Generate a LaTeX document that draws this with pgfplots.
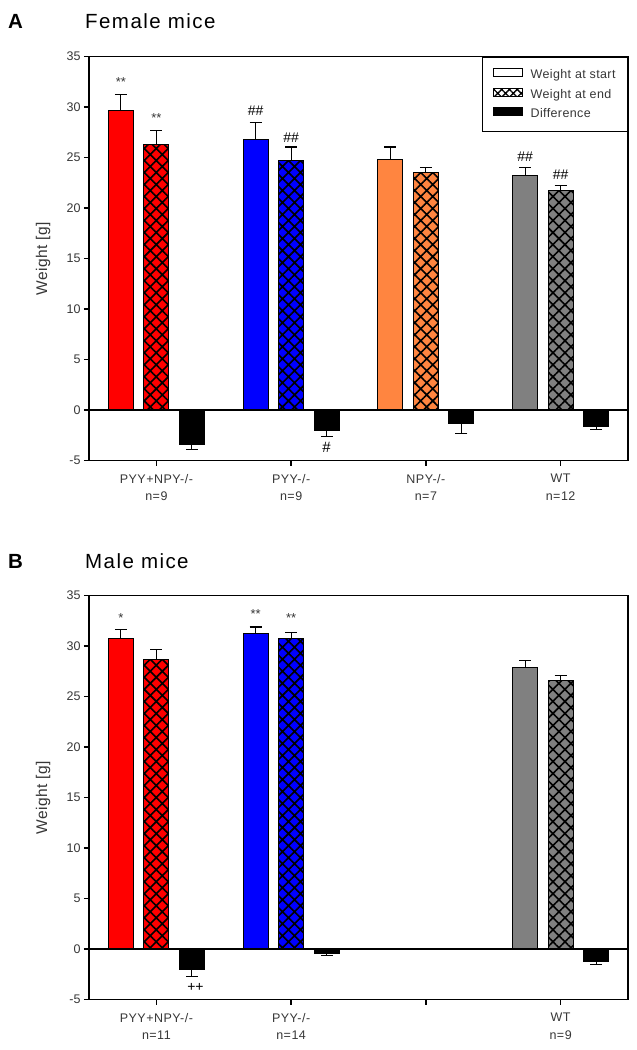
\documentclass[border=0pt]{standalone}
\usepackage{fontspec}
\setmainfont{Liberation Sans}
\usepackage{pgfplots}
\pgfplotsset{compat=1.18}
\usetikzlibrary{patterns.meta}

\definecolor{cRed}{RGB}{255,0,0}
\definecolor{cBlue}{RGB}{0,0,255}
\definecolor{cOrange}{RGB}{255,133,64}
\definecolor{cGray}{RGB}{128,128,128}
\definecolor{tickgray}{RGB}{55,55,55}

\newcommand{\lsp}[1]{\addfontfeatures{LetterSpace=#1}}

\tikzset{hatchpat/.style={postaction={pattern={Hatch[angle=45,distance=8.5pt,line width=1.6pt]}, pattern color=black}},
  ann/.style={font=\fontsize{13}{15}\selectfont, text=tickgray},
  hann/.style={font=\fontsize{14}{16}\selectfont, text=black}}

\pgfplotsset{
  mybars/.style={ybar, bar width=0.1855, bar shift=0pt, draw=black, line width=0.9pt, forget plot,
     error bars/y explicit, error bars/error bar style={line width=1.2pt, black},
     error bars/error mark options={black, line width=1.2pt, mark size=6pt, rotate=90}},
  panel/.style={scale only axis, width=539pt, height=404pt, xmin=-0.5, xmax=3.5, ymin=-5, ymax=35,
     ytick={-5,0,5,10,15,20,25,30,35}, xtick={0,1,2,3}, tick align=outside, ytick pos=left, xtick pos=bottom,
     major tick length=5pt, axis line style={line width=1.5pt}, tick style={line width=1.3pt, black},
     /pgf/number format/assume math mode=true,
     yticklabel style={font=\fontsize{12.5}{14}\selectfont, text=tickgray},
     xticklabel style={align=center, font=\fontsize{12.5}{17.5}\selectfont\lsp{4}, text=tickgray, yshift=-5pt},
     ylabel={Weight [g]},
     ylabel style={at={(axis description cs:-0.0853,0.5)}, anchor=center, font=\fontsize{15.5}{17}\selectfont\lsp{3}, text=tickgray},
     clip=false},
}

\begin{document}
\begin{tikzpicture}
\useasboundingbox (0,0) rectangle (637pt,-1050pt);

% ---------------- Panel A ----------------
\begin{axis}[panel, at={(89pt,-460.5pt)}, anchor=south west,
  xticklabels={{PYY+NPY-/-\\n=9},{PYY-/-\\n=9},{NPY-/-\\n=7},{WT\\n=12}},
  legend style={at={(axis description cs:1,1)}, anchor=north east, draw=black, line width=1pt,
     inner xsep=10pt, inner ysep=11pt, row sep=6pt, font=\fontsize{12.5}{14}\selectfont\lsp{3}, text=tickgray,
     nodes={text height=9pt, text depth=3pt, inner ysep=0pt, inner xsep=2pt}},
  legend cell align=left]
\addlegendimage{legend image code/.code={\draw[fill=white, draw=black, line width=0.9pt] (0pt,-1pt) rectangle (29pt,7pt); \path (35pt,0pt);}}
\addlegendentry{Weight at start}
\addlegendimage{legend image code/.code={\draw[fill=white, draw=black, line width=0.9pt, postaction={pattern={Hatch[angle=45,distance=5.5pt,line width=1.3pt]}, pattern color=black}] (0pt,-1pt) rectangle (29pt,7pt); \path (35pt,0pt);}}
\addlegendentry{Weight at end}
\addlegendimage{legend image code/.code={\draw[fill=black, draw=black, line width=0.9pt] (0pt,-1pt) rectangle (29pt,7pt); \path (35pt,0pt);}}
\addlegendentry{Difference}

% start weights
\addplot[mybars, fill=cRed, error bars/y dir=plus] coordinates {(-0.2635,29.65) +- (0,1.6)};
\addplot[mybars, fill=cBlue, error bars/y dir=plus] coordinates {(0.7365,26.75) +- (0,1.75)};
\addplot[mybars, fill=cOrange, error bars/y dir=plus] coordinates {(1.7365,24.8) +- (0,1.25)};
\addplot[mybars, fill=cGray, error bars/y dir=plus] coordinates {(2.7365,23.2) +- (0,0.85)};
% end weights
\addplot[mybars, fill=cRed, hatchpat, error bars/y dir=plus] coordinates {(0,26.3) +- (0,1.4)};
\addplot[mybars, fill=cBlue, hatchpat, error bars/y dir=plus] coordinates {(1,24.75) +- (0,1.3)};
\addplot[mybars, fill=cOrange, hatchpat, error bars/y dir=plus] coordinates {(2,23.55) +- (0,0.45)};
\addplot[mybars, fill=cGray, hatchpat, error bars/y dir=plus] coordinates {(3,21.7) +- (0,0.5)};
% differences
\addplot[mybars, fill=black, error bars/y dir=minus] coordinates {(0.2635,-3.43) +- (0,0.47) (1.2635,-2.0) +- (0,0.63) (2.2635,-1.37) +- (0,0.95) (3.2635,-1.67) +- (0,0.26)};
\addplot[black, line width=1.3pt, forget plot] coordinates {(-0.5,0) (3.5,0)};

\node[ann] at (axis cs:-0.2635,32.5) {**};
\node[ann] at (axis cs:0,28.9) {**};
\node[hann] at (axis cs:0.7365,29.6) {\#\#};
\node[hann] at (axis cs:1,27.0) {\#\#};
\node[hann, font=\fontsize{15}{17}\selectfont] at (axis cs:1.2635,-3.7) {\#};
\node[hann] at (axis cs:2.7365,25.1) {\#\#};
\node[hann] at (axis cs:3,23.3) {\#\#};
\end{axis}

% ---------------- Panel B ----------------
\begin{axis}[panel, at={(89pt,-999.5pt)}, anchor=south west,
  xticklabels={{PYY+NPY-/-\\n=11},{PYY-/-\\n=14},{},{WT\\n=9}}]
\addplot[mybars, fill=cRed, error bars/y dir=plus] coordinates {(-0.2635,30.76) +- (0,0.9)};
\addplot[mybars, fill=cBlue, error bars/y dir=plus] coordinates {(0.7365,31.26) +- (0,0.62)};
\addplot[mybars, fill=cGray, error bars/y dir=plus] coordinates {(2.7365,27.89) +- (0,0.66)};
\addplot[mybars, fill=cRed, hatchpat, error bars/y dir=plus] coordinates {(0,28.64) +- (0,1.03)};
\addplot[mybars, fill=cBlue, hatchpat, error bars/y dir=plus] coordinates {(1,30.76) +- (0,0.6)};
\addplot[mybars, fill=cGray, hatchpat, error bars/y dir=plus] coordinates {(3,26.63) +- (0,0.47)};
\addplot[mybars, fill=black, error bars/y dir=minus] coordinates {(0.2635,-2.07) +- (0,0.66) (1.2635,-0.4) +- (0,0.27) (3.2635,-1.23) +- (0,0.3)};
\addplot[black, line width=1.3pt, forget plot] coordinates {(-0.5,0) (3.5,0)};

\node[ann] at (axis cs:-0.2635,32.8) {*};
\node[ann] at (axis cs:0.7365,33.2) {**};
\node[ann] at (axis cs:1,32.8) {**};
\node[hann, font=\fontsize{14}{16}\selectfont] at (axis cs:0.29,-3.85) {++};
\end{axis}

% ---------------- Titles ----------------
\node[anchor=west, inner sep=0pt, font=\fontsize{20.5}{22}\bfseries] at (8pt,-21pt) {A};
\node[anchor=west, inner sep=0pt, font=\fontsize{20.5}{22}\selectfont\lsp{7}] at (85pt,-21pt) {Female mice};
\node[anchor=west, inner sep=0pt, font=\fontsize{20.5}{22}\bfseries] at (8pt,-561pt) {B};
\node[anchor=west, inner sep=0pt, font=\fontsize{20.5}{22}\selectfont\lsp{7}] at (85pt,-561pt) {Male mice};
\end{tikzpicture}
\end{document}
